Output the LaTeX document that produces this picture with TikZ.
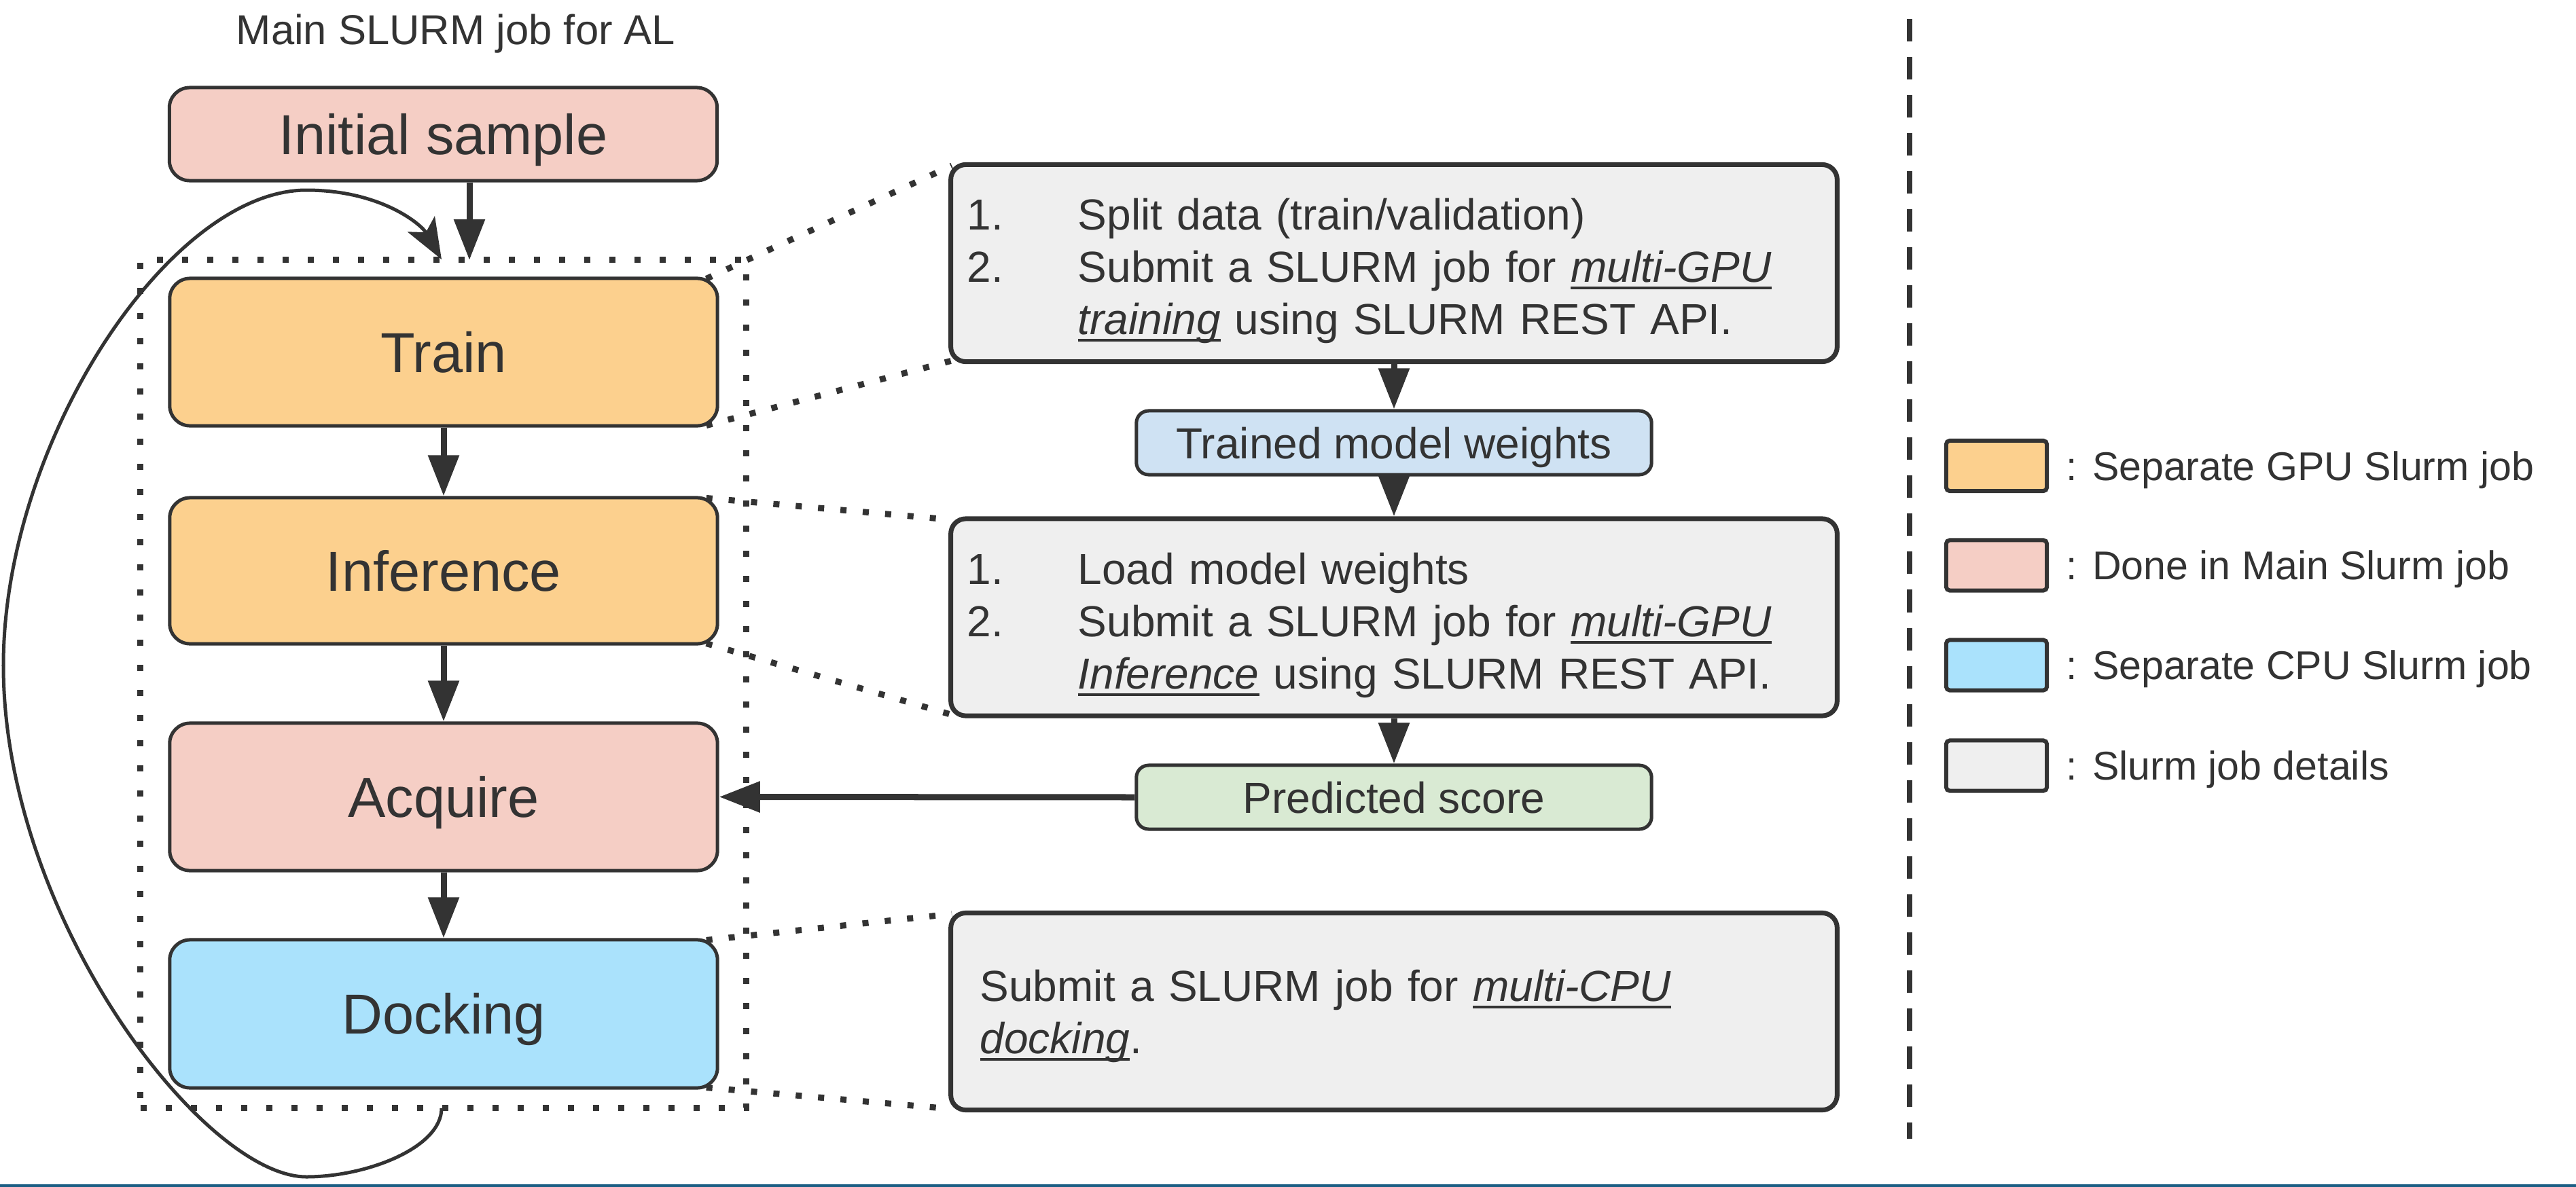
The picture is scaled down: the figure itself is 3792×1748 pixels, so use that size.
\documentclass[tikz,border=0pt]{standalone}
\usepackage{fontspec}
\setmainfont{Liberation Sans}
\usetikzlibrary{arrows.meta,backgrounds,calc}
\definecolor{lc}{HTML}{333333}
\definecolor{pinkf}{HTML}{F5CEC5}
\definecolor{orangef}{HTML}{FCD08E}
\definecolor{cyanf}{HTML}{AAE2FC}
\definecolor{bluef}{HTML}{CFE2F3}
\definecolor{greenf}{HTML}{D9EAD3}
\definecolor{detf}{HTML}{EFEFEF}
\definecolor{bottomline}{HTML}{1B5E84}
\newsavebox{\ulbox}
\newcommand{\ulit}[1]{\leavevmode\sbox{\ulbox}{\textit{#1}}\rlap{\usebox{\ulbox}}\rule[-2.9pt]{\wd\ulbox}{1.1pt}}
\newcommand{\numcol}[1]{\makebox[1.63cm][l]{#1}}
\newcommand{\topstrut}{\rule{0pt}{0.7cm}}
\tikzset{
  mainbox/.style={draw=lc, line width=0.05cm, rounded corners=0.3cm, minimum width=8.06cm,
    text=lc, font=\fontsize{23.6pt}{28pt}\selectfont, text height=0.59cm, text depth=0cm, inner sep=0pt},
  detbox/.style={draw=lc, line width=0.07cm, rounded corners=0.22cm, fill=detf, text=lc,
    font=\fontsize{18.2pt}{21.9pt}\selectfont, minimum height=2.9cm, align=left, inner ysep=0pt},
  smallbox/.style={draw=lc, line width=0.05cm, rounded corners=0.18cm, minimum width=7.58cm,
    minimum height=0.94cm, text=lc, font=\fontsize{18.2pt}{22pt}\selectfont,
    text height=0.46cm, text depth=0cm, inner sep=0pt},
  arr/.style={draw=lc, line width=0.09cm, -{Triangle[length=0.6cm, width=0.44cm]}},
  loopl/.style={draw=lc, line width=0.05cm, -{Stealth[length=0.6cm, width=0.46cm, inset=0.14cm]}},
  dotline/.style={draw=lc, line width=0.09cm, dash pattern=on 0.09cm off 0.24cm},
  dotrect/.style={draw=lc, line width=0.09cm, dash pattern=on 0.09cm off 0.28cm, inner sep=0pt},
  legbox/.style={draw=lc, line width=0.06cm, rounded corners=0.05cm, minimum width=1.48cm,
    minimum height=0.74cm, inner sep=0pt},
  legtext/.style={anchor=west, text=lc, font=\fontsize{16.8pt}{20pt}\selectfont,
    text height=0.42cm, text depth=0cm, inner sep=0pt},
}
\begin{document}
\begin{tikzpicture}[x=0.01cm, y=-0.01cm]
\useasboundingbox (0,0) rectangle (3792,1748);

% title
\node[anchor=base, text=lc, font=\fontsize{17.5pt}{21pt}\selectfont, inner sep=0pt] (title) at (671,65) {Main SLURM job for AL};

% main column
\node[mainbox, fill=pinkf, minimum height=1.37cm] (init) at (652.5,197.5) {Initial sample};
\node[dotrect, minimum width=8.91cm, minimum height=12.48cm] (grp) at (652.5,1007) {};
\node[mainbox, fill=orangef, minimum height=2.17cm] (train) at (653,518.5) {Train};
\node[mainbox, fill=orangef, minimum height=2.15cm] (inf) at (653,840.5) {Inference};
\node[mainbox, fill=pinkf, minimum height=2.17cm] (acq) at (653,1173.5) {Acquire};
\node[mainbox, fill=cyanf, minimum height=2.18cm] (dock) at (653,1493) {Docking};

% right column
\node[detbox, inner xsep=0.24cm, text width=12.56cm] (d1) at (2052,387.5) {%
\topstrut\numcol{1.}Split data (train/validation)\\
\numcol{2.}Submit a SLURM job for \ulit{multi-GPU}\\
\hspace*{1.63cm}\ulit{training} using SLURM REST API.};
\node[smallbox, fill=bluef] (weights) at (2052,652) {Trained model weights};
\node[detbox, inner xsep=0.24cm, text width=12.56cm] (d2) at (2052,909) {%
\topstrut\numcol{1.}Load model weights\\
\numcol{2.}Submit a SLURM job for \ulit{multi-GPU}\\
\hspace*{1.63cm}\ulit{Inference} using SLURM REST API.};
\node[smallbox, fill=greenf] (pred) at (2052,1174) {Predicted score};
\node[detbox, inner xsep=0.43cm, text width=12.18cm] (d3) at (2052,1489.5) {%
\rule{0pt}{0.6cm}Submit a SLURM job for \ulit{multi-CPU}\\
\ulit{docking}.};

% legend
\node[legbox, fill=orangef] (lg1) at (2939,686) {};
\node[legtext] (lt1) at (3041,686) {: Separate GPU Slurm job};
\node[legbox, fill=pinkf] (lg2) at (2939,832.5) {};
\node[legtext] (lt2) at (3041,832.5) {: Done in Main Slurm job};
\node[legbox, fill=cyanf] (lg3) at (2939,979.5) {};
\node[legtext] (lt3) at (3041,979.5) {: Separate CPU Slurm job};
\node[legbox, fill=detf] (lg4) at (2939,1127.5) {};
\node[legtext] (lt4) at (3041,1127.5) {: Slurm job details};

% separator
\coordinate (dtop) at (2811,28);
\coordinate (dbot) at (2811,1677);
\draw[draw=lc, line width=0.08cm, dash pattern=on 0.33cm off 0.23cm] (dtop) -- (dbot);

% arrows
\coordinate (inittip) at (691,383);
\draw[arr] (init.south -| inittip) -- (inittip);
\draw[arr] (train) -- (inf);
\draw[arr] (inf) -- (acq);
\draw[arr] (acq) -- (dock);
\draw[arr] (d1) -- (weights);
\draw[arr] (weights) -- (d2);
\draw[arr] (d2) -- (pred);
\draw[arr] (pred.west) -- (acq.east);

% loop
\coordinate (loopstart) at (650,1632);
\coordinate (loopend) at (650,382);
\draw[loopl] (loopstart) .. controls (650,1690) and (540,1733) .. (451,1733)
  .. controls (300,1733) and (5,1350) .. (5,980)
  .. controls (5,650) and (250,280) .. (451,280)
  .. controls (560,280) and (620,330) .. (loopend);

% bottom line
\fill[bottomline] (0,1744) rectangle (3792,1748);

\begin{pgfonlayer}{background}
\fill[white] (0,0) rectangle (3792,1748);
\draw[dotline] ($(train.north east)+(-19,3)$) -- ($(d1.north west)+(5,5)$);
\draw[dotline] ($(train.south east)+(-19,-3)$) -- ($(d1.south west)+(5,-5)$);
\draw[dotline] ($(inf.north east)+(-19,3)$) -- ($(d2.north west)+(5,5)$);
\draw[dotline] ($(inf.south east)+(-19,-3)$) -- ($(d2.south west)+(5,-5)$);
\draw[dotline] ($(dock.north east)+(-19,3)$) -- ($(d3.north west)+(5,5)$);
\draw[dotline] ($(dock.south east)+(-19,-3)$) -- ($(d3.south west)+(5,-5)$);
\end{pgfonlayer}
\end{tikzpicture}
\end{document}
